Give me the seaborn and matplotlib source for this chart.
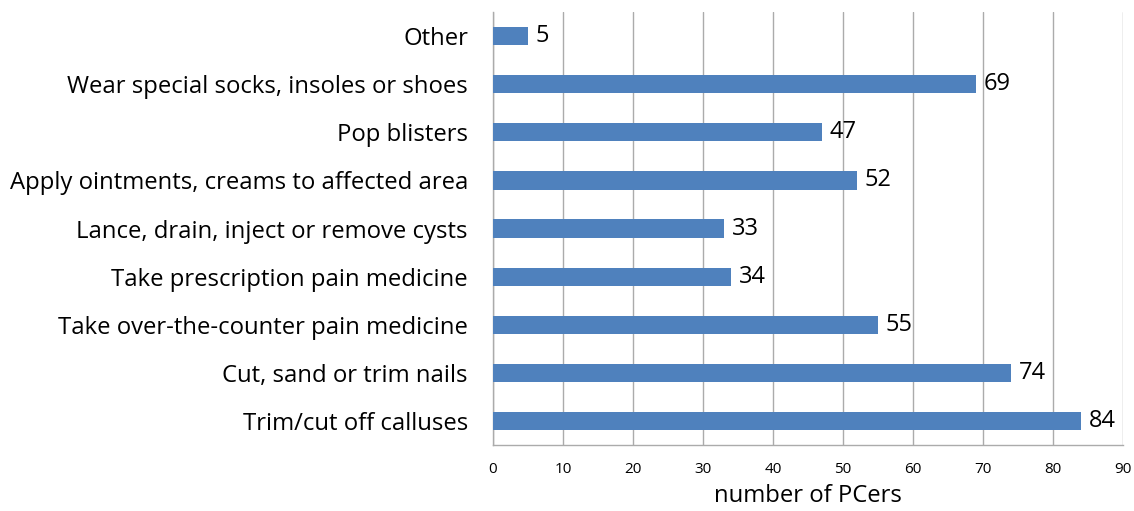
import matplotlib
matplotlib.use("Agg")
import matplotlib.pyplot as plt
import seaborn as sns
import pandas as pd

categories = [
    "Other",
    "Wear special socks, insoles or shoes",
    "Pop blisters",
    "Apply ointments, creams to affected area",
    "Lance, drain, inject or remove cysts",
    "Take prescription pain medicine",
    "Take over-the-counter pain medicine",
    "Cut, sand or trim nails",
    "Trim/cut off calluses",
]
counts = [5, 69, 47, 52, 33, 34, 55, 74, 84]
x_ticks = list(range(0, 91, 10))

df = pd.DataFrame({"category": categories, "count": counts})

sns.set_style("white")
plt.rcParams["font.family"] = ["Open Sans", "DejaVu Sans"]
plt.rcParams["text.color"] = "black"
plt.rcParams["xtick.color"] = "black"
plt.rcParams["ytick.color"] = "black"
plt.rcParams["axes.labelcolor"] = "black"

fig = plt.figure(figsize=(11.34, 5.11), dpi=100)
ax = fig.add_axes([0.4347, 0.129, 0.5556, 0.8475])

sns.barplot(data=df, x="count", y="category", color="#4F81BD",
            width=0.38, saturation=1, linewidth=0, ax=ax, zorder=3)

for i, v in enumerate(counts):
    ax.text(v + 1.1, i, str(v), va="center", ha="left", fontsize=17, color="black")

ax.set_xlim(0, 90)
ax.set_ylim(len(categories) - 0.5, -0.5)
ax.set_xticks(x_ticks)
ax.set_xticklabels([str(t) for t in x_ticks], fontsize=11)
ax.tick_params(axis="x", length=0, pad=12)
ax.tick_params(axis="y", length=0, labelsize=17.2, pad=18)
ax.xaxis.grid(True, color="#ABABAB", linewidth=1, zorder=0)
ax.yaxis.grid(False)
ax.set_xlabel("number of PCers", fontsize=17.2, labelpad=5)
ax.set_ylabel("")

for side in ["top", "right"]:
    ax.spines[side].set_visible(False)
for side in ["left", "bottom"]:
    ax.spines[side].set_color("#ABABAB")
    ax.spines[side].set_linewidth(1)

fig.savefig("out.png", dpi=100)
